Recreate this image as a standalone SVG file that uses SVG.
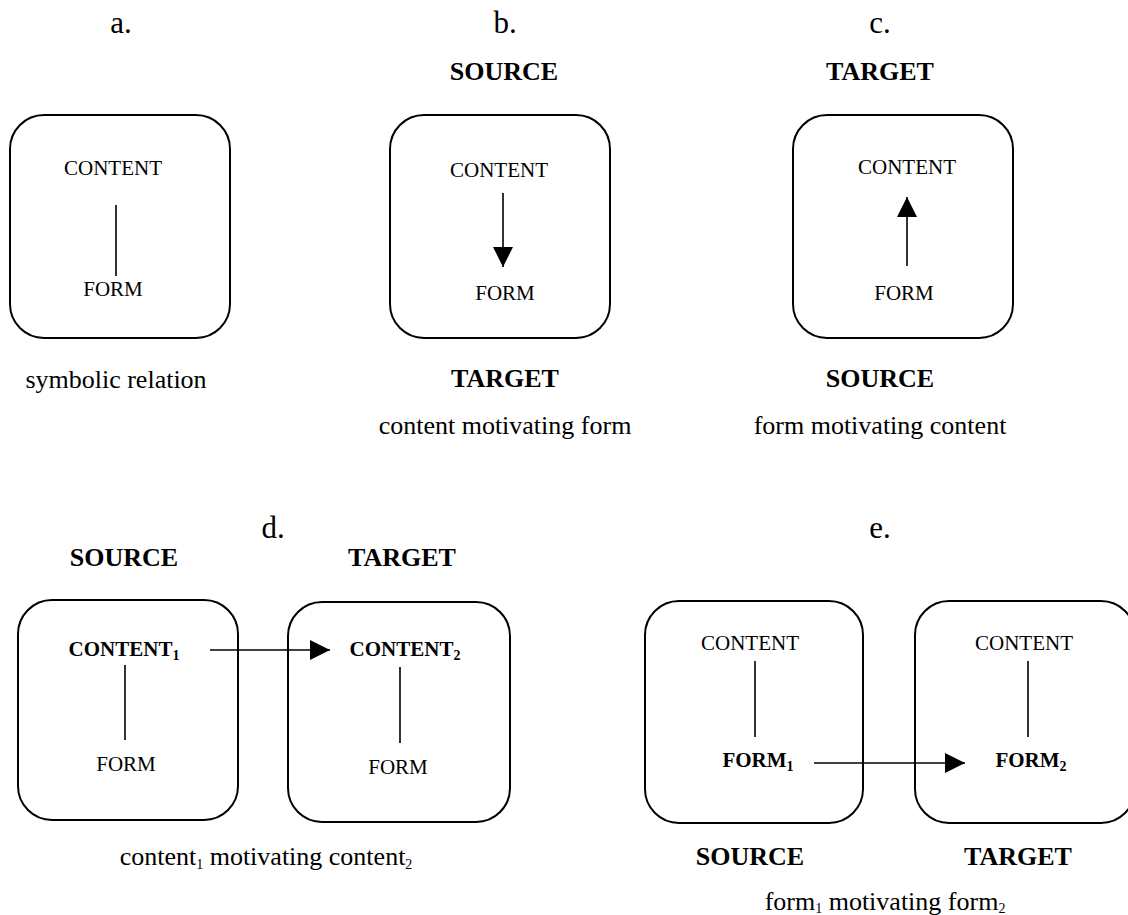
<svg xmlns="http://www.w3.org/2000/svg" width="1128" height="915" viewBox="0 0 1128 915">
  <style>
    text { font-family: "Liberation Serif", "Times New Roman", serif; fill: #000; text-anchor: middle; }
    .panel { font-size: 31px; }
    .role { font-size: 26px; font-weight: bold; }
    .cap { font-size: 26px; }
    .inner { font-size: 21px; }
    .innerb { font-size: 21px; font-weight: bold; }
    .sub { font-size: 14px; }
    .box { fill: #fff; stroke: #000; stroke-width: 2; }
    .link { stroke: #000; stroke-width: 1.6; fill: none; }
  </style>
  <defs>
    <marker id="bighead" viewBox="0 0 10 10" refX="10" refY="5" markerWidth="20" markerHeight="20" markerUnits="userSpaceOnUse" orient="auto">
      <path d="M0,0 L10,5 L0,10 Z" fill="#000"/>
    </marker>
  </defs>

  <rect width="1128" height="915" fill="#fff"/>

  <!-- panel letters -->
  <text class="panel" x="121" y="33">a.</text>
  <text class="panel" x="505" y="33">b.</text>
  <text class="panel" x="880" y="33">c.</text>
  <text class="panel" x="273" y="538">d.</text>
  <text class="panel" x="880" y="538">e.</text>

  <!-- a: symbolic relation -->
  <g id="node-a">
    <rect class="box" x="10" y="115" width="220" height="223" rx="34"/>
    <text class="inner" x="113" y="175">CONTENT</text>
    <text class="inner" x="113" y="296">FORM</text>
  </g>
  <text class="cap" x="116" y="388">symbolic relation</text>

  <!-- b: content motivating form -->
  <text class="role" x="504" y="80">SOURCE</text>
  <g id="node-b">
    <rect class="box" x="390" y="115" width="220" height="223" rx="34"/>
    <text class="inner" x="499" y="177">CONTENT</text>
    <text class="inner" x="505" y="300">FORM</text>
  </g>
  <text class="role" x="505" y="387">TARGET</text>
  <text class="cap" x="505" y="434">content motivating form</text>

  <!-- c: form motivating content -->
  <text class="role" x="880" y="80">TARGET</text>
  <g id="node-c">
    <rect class="box" x="793" y="115" width="220" height="223" rx="34"/>
    <text class="inner" x="907" y="174">CONTENT</text>
    <text class="inner" x="904" y="300">FORM</text>
  </g>
  <text class="role" x="880" y="387">SOURCE</text>
  <text class="cap" x="880" y="434">form motivating content</text>

  <!-- d: content1 motivating content2 -->
  <text class="role" x="124" y="566">SOURCE</text>
  <text class="role" x="402" y="566">TARGET</text>
  <g id="node-d1">
    <rect class="box" x="18" y="600" width="220" height="220" rx="34"/>
    <text class="innerb" x="124" y="656">CONTENT<tspan class="sub" dy="4">1</tspan></text>
    <text class="inner" x="126" y="771">FORM</text>
  </g>
  <g id="node-d2">
    <rect class="box" x="288" y="602" width="222" height="220" rx="34"/>
    <text class="innerb" x="405" y="656">CONTENT<tspan class="sub" dy="4">2</tspan></text>
    <text class="inner" x="398" y="774">FORM</text>
  </g>
  <text class="cap" x="266" y="865">content<tspan class="sub" dy="4">1</tspan><tspan dy="-4"> motivating content</tspan><tspan class="sub" dy="4">2</tspan></text>

  <!-- e: form1 motivating form2 -->
  <g id="node-e1">
    <rect class="box" x="645" y="601" width="218" height="222" rx="34"/>
    <text class="inner" x="750" y="650">CONTENT</text>
    <text class="innerb" x="758" y="767">FORM<tspan class="sub" dy="4">1</tspan></text>
  </g>
  <g id="node-e2">
    <rect class="box" x="915" y="601" width="220" height="222" rx="34"/>
    <text class="inner" x="1024" y="650">CONTENT</text>
    <text class="innerb" x="1031" y="767">FORM<tspan class="sub" dy="4">2</tspan></text>
  </g>
  <text class="role" x="750" y="865">SOURCE</text>
  <text class="role" x="1018" y="865">TARGET</text>
  <text class="cap" x="885" y="910">form<tspan class="sub" dy="3">1</tspan><tspan dy="-3"> motivating form</tspan><tspan class="sub" dy="3">2</tspan></text>

  <!-- connectors -->
  <g id="connectors">
    <line class="link" x1="116" y1="205" x2="116" y2="276"/>
    <line class="link" x1="503" y1="193" x2="503" y2="267" marker-end="url(#bighead)"/>
    <line class="link" x1="907" y1="266" x2="907" y2="197" marker-end="url(#bighead)"/>
    <line class="link" x1="125" y1="665" x2="125" y2="740"/>
    <line class="link" x1="400" y1="667" x2="400" y2="743"/>
    <line class="link" x1="210" y1="650" x2="330" y2="650" marker-end="url(#bighead)"/>
    <line class="link" x1="755" y1="661" x2="755" y2="737"/>
    <line class="link" x1="1028" y1="661" x2="1028" y2="737"/>
    <line class="link" x1="814" y1="763" x2="965" y2="763" marker-end="url(#bighead)"/>
  </g>
</svg>
